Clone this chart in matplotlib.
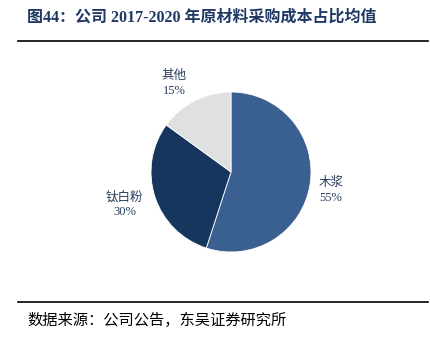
import matplotlib.pyplot as plt
from matplotlib.lines import Line2D

plt.rcParams['font.family'] = ['Liberation Serif', 'Noto Sans CJK SC', 'DejaVu Sans']

# data
categories = ['木浆', '钛白粉', '其他']
shares = [55, 30, 15]
colors = ['#3a5f91', '#17365d', '#e0e0e0']

title = '图44：公司 2017-2020 年原材料采购成本占比均值'
source = '数据来源：公司公告，东吴证券研究所'

W, H = 431, 339
fig = plt.figure(figsize=(W / 100, H / 100), dpi=100)

# pie axes, centre (231,172) px, radius 80 px
cx, cy, r = 231, 172, 80
ax = fig.add_axes([(cx - r) / W, (H - cy - r) / H, 2 * r / W, 2 * r / H])
ax.pie(shares, colors=colors, startangle=90, counterclock=False,
       wedgeprops=dict(edgecolor='white', linewidth=0.6))
ax.set_xlim(-1, 1)
ax.set_ylim(-1, 1)
ax.axis('off')

label_pos = {'木浆': (1.25, -0.23), '钛白粉': (-1.33, -0.41), '其他': (-0.71, 1.11)}
for cat, val in zip(categories, shares):
    x, y = label_pos[cat]
    ax.text(x, y, f'{cat}\n{val}%', ha='center', va='center', fontsize=9,
            color='#2a3f5f', linespacing=1.3, clip_on=False)

# title and rules
fig.text(27 / W, 1 - 18 / H, title, fontsize=11.5, fontweight='bold',
         color='#1f3864', ha='left', va='center')
fig.add_artist(Line2D([18 / W, 428 / W], [1 - 41 / H] * 2, color='black', lw=1.2))
fig.add_artist(Line2D([18 / W, 428 / W], [1 - 302 / H] * 2, color='black', lw=1.2))
fig.text(27 / W, 1 - 320 / H, source, fontsize=11, color='black', ha='left', va='center')

fig.savefig('out.png', dpi=100)
